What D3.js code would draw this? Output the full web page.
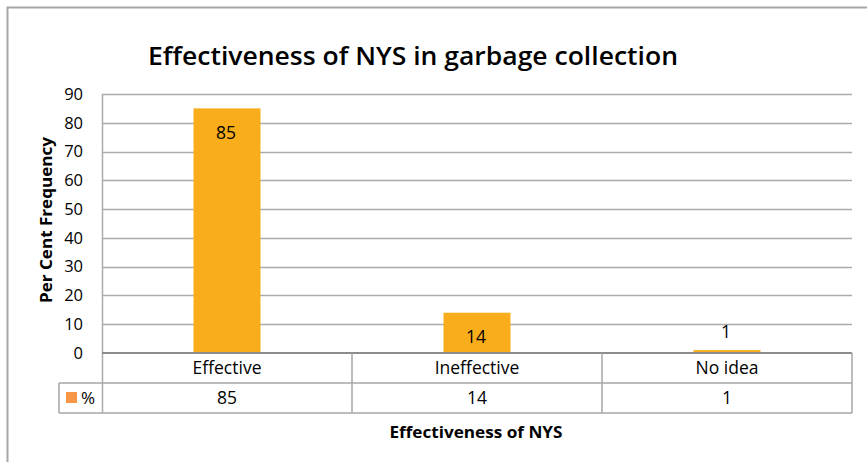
<!DOCTYPE html>
<html><head><meta charset="utf-8">
<script src="https://cdn.jsdelivr.net/npm/d3@7"></script>
<style>body{margin:0;background:#fff}svg{display:block}</style>
</head><body>
<script>
const categories = ["Effective", "Ineffective", "No idea"];
const values = [85, 14, 1];
const yTicks = [0, 10, 20, 30, 40, 50, 60, 70, 80, 90];
const seriesName = "%";
const title = "Effectiveness of NYS in garbage collection";
const xTitle = "Effectiveness of NYS";
const yTitle = "Per Cent Frequency";

(function () {
const W = 867, H = 462;
const svg = d3.select("body").append("svg").attr("width", W).attr("height", H);
const font = "'Open Sans', 'Noto Sans', sans-serif";
const grid = "#ababab";

// outer frame
svg.append("rect").attr("x", 7.5).attr("y", 7.5).attr("width", W).attr("height", H)
  .attr("fill", "none").attr("stroke", "#a6a6a6").attr("stroke-width", 2);

const pLeft = 102, pRight = 852, pTop = 94, zero = 353;
const x = d3.scaleBand().domain(categories).range([pLeft, pRight]).paddingInner(0).paddingOuter(0);
const y = d3.scaleLinear().domain([0, 90]).range([zero, pTop]);

// gridlines
svg.append("g").selectAll("line").data(yTicks.filter(d => d > 0)).join("line")
  .attr("x1", pLeft).attr("x2", pRight).attr("y1", d => Math.round(y(d)) + 0.5).attr("y2", d => Math.round(y(d)) + 0.5)
  .attr("stroke", grid).attr("stroke-width", 1.5);

// y tick labels
svg.append("g").selectAll("text").data(yTicks).join("text")
  .attr("x", 83).attr("y", d => y(d)).attr("dy", "0.35em").attr("text-anchor", "end")
  .attr("font-family", font).attr("font-size", 16.5).attr("fill", "#000").text(d => d);

// bars
const bw = 67;
svg.append("g").selectAll("rect").data(values).join("rect")
  .attr("x", (d, i) => x(categories[i]) + x.bandwidth() / 2 - bw / 2)
  .attr("y", d => y(d)).attr("width", bw).attr("height", d => zero - y(d))
  .attr("fill", "#f9ad1a");

// data labels
svg.append("g").selectAll("text").data(values).join("text")
  .attr("x", (d, i) => x(categories[i]) + x.bandwidth() / 2 - 1)
  .attr("y", d => (zero - y(d) > 30 ? y(d) + 24 : y(d) - 18))
  .attr("dy", "0.35em").attr("text-anchor", "middle")
  .attr("font-family", font).attr("font-size", 17.5).attr("fill", "#000").text(d => d);

// plot left border
svg.append("line").attr("x1", pLeft + 0.5).attr("x2", pLeft + 0.5).attr("y1", pTop).attr("y2", 413)
  .attr("stroke", grid).attr("stroke-width", 1.5);

// data table
const rowTop = 353, rowMid = 383, rowBot = 413, legLeft = 59;
const tbl = svg.append("g").attr("stroke", "#a6a6a6").attr("stroke-width", 1.5);
tbl.append("line").attr("x1", pLeft).attr("x2", pRight).attr("y1", rowTop).attr("y2", rowTop).attr("stroke", "#8c8c8c").attr("stroke-width", 2);
tbl.append("line").attr("x1", legLeft).attr("x2", pRight).attr("y1", rowMid).attr("y2", rowMid);
tbl.append("line").attr("x1", legLeft).attr("x2", pRight).attr("y1", rowBot).attr("y2", rowBot);
tbl.append("line").attr("x1", legLeft).attr("x2", legLeft).attr("y1", rowMid).attr("y2", rowBot);
tbl.selectAll("line.col").data(categories).join("line").attr("class", "col")
  .attr("x1", d => x(d) + x.bandwidth()).attr("x2", d => x(d) + x.bandwidth())
  .attr("y1", rowTop).attr("y2", rowBot);

svg.append("g").selectAll("text").data(categories).join("text")
  .attr("x", d => x(d) + x.bandwidth() / 2).attr("y", (rowTop + rowMid) / 2).attr("dy", "0.35em")
  .attr("text-anchor", "middle").attr("font-family", font).attr("font-size", 17.5).text(d => d);
svg.append("g").selectAll("text").data(values).join("text")
  .attr("x", (d, i) => x(categories[i]) + x.bandwidth() / 2).attr("y", (rowMid + rowBot) / 2).attr("dy", "0.35em")
  .attr("text-anchor", "middle").attr("font-family", font).attr("font-size", 17.5).text(d => d);

// legend key
svg.append("rect").attr("x", 66).attr("y", 392).attr("width", 11).attr("height", 11).attr("fill", "#f79646");
svg.append("text").attr("x", 81).attr("y", 398).attr("dy", "0.35em").attr("font-family", font)
  .attr("font-size", 17).text(seriesName);

// titles
svg.append("text").attr("x", 413).attr("y", 65).attr("text-anchor", "middle")
  .attr("font-family", font).attr("font-weight", 600).attr("font-size", 26)
  .attr("textLength", 530).attr("lengthAdjust", "spacingAndGlyphs").text(title);
svg.append("text").attr("x", 476).attr("y", 438).attr("text-anchor", "middle")
  .attr("font-family", font).attr("font-weight", "bold").attr("font-size", 16)
  .attr("textLength", 173).attr("lengthAdjust", "spacingAndGlyphs").text(xTitle);
svg.append("text").attr("transform", "translate(52,220) rotate(-90)").attr("text-anchor", "middle")
  .attr("font-family", font).attr("font-weight", "bold").attr("font-size", 16)
  .attr("textLength", 166).attr("lengthAdjust", "spacingAndGlyphs").text(yTitle);
})();
</script>
</body></html>
